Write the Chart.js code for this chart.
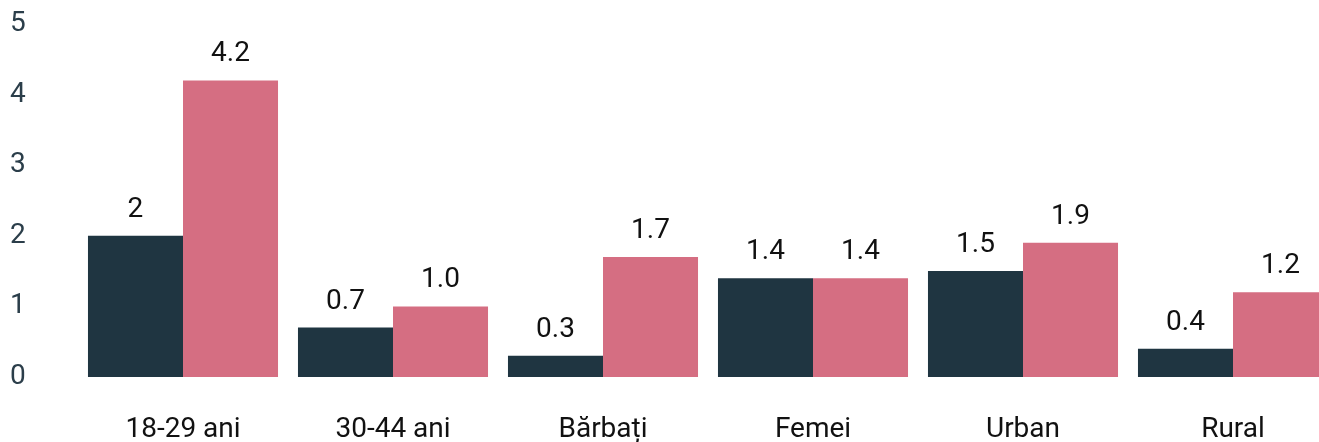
<!DOCTYPE html>
<html>
<head>
<meta charset="utf-8">
<script src="https://cdn.jsdelivr.net/npm/chart.js@4/dist/chart.umd.min.js"></script>
<style>
  html, body { margin: 0; padding: 0; background: #fff; overflow: hidden; }
</style>
</head>
<body>
<canvas id="chart" width="1340" height="442"></canvas>
<script>
const categories = ["18-29 ani", "30-44 ani", "Bărbați", "Femei", "Urban", "Rural"];
const seriesDark = [2, 0.7, 0.3, 1.4, 1.5, 0.4];
const seriesPink = [4.2, 1.0, 1.7, 1.4, 1.9, 1.2];
const labelsDark = ["2", "0.7", "0.3", "1.4", "1.5", "0.4"];
const labelsPink = ["4.2", "1.0", "1.7", "1.4", "1.9", "1.2"];
const yTicks = [0, 1, 2, 3, 4, 5];

const FONT = "Roboto";
const SIZE = 28;

// draws the value text above each bar
const valueLabels = {
  id: "valueLabels",
  afterDatasetsDraw(chart) {
    const ctx = chart.ctx;
    ctx.save();
    ctx.font = SIZE + "px " + FONT;
    ctx.fillStyle = "#111";
    ctx.textAlign = "center";
    ctx.textBaseline = "alphabetic";
    chart.data.datasets.forEach((ds, i) => {
      chart.getDatasetMeta(i).data.forEach((bar, j) => {
        ctx.fillText(ds.valueText[j], bar.x, bar.y - 19);
      });
    });
    ctx.restore();
  }
};

new Chart(document.getElementById("chart"), {
  type: "bar",
  data: {
    labels: categories,
    datasets: [
      { data: seriesDark, valueText: labelsDark, backgroundColor: "#1f3541" },
      { data: seriesPink, valueText: labelsPink, backgroundColor: "#d56e82" }
    ]
  },
  options: {
    responsive: false,
    animation: false,
    layout: { padding: { top: 24, right: 2, left: 10, bottom: 0 } },
    plugins: { legend: { display: false }, tooltip: { enabled: false } },
    datasets: { bar: { categoryPercentage: 0.905, barPercentage: 1 } },
    scales: {
      x: {
        grid: { display: false, drawTicks: false },
        border: { display: false },
        afterFit(axis) { axis.height = 65; },
        ticks: { color: "#111", font: { family: FONT, size: SIZE }, padding: 36, maxRotation: 0 }
      },
      y: {
        min: 0,
        max: 5,
        grid: { display: false, drawTicks: false },
        border: { display: false },
        afterFit(axis) { axis.width = 68; },
        afterBuildTicks(axis) { axis.ticks = yTicks.map(v => ({ value: v })); },
        ticks: { color: "#2b3e4a", font: { family: FONT, size: SIZE }, padding: 0, crossAlign: "far" }
      }
    }
  },
  plugins: [valueLabels]
});
</script>
</body>
</html>
